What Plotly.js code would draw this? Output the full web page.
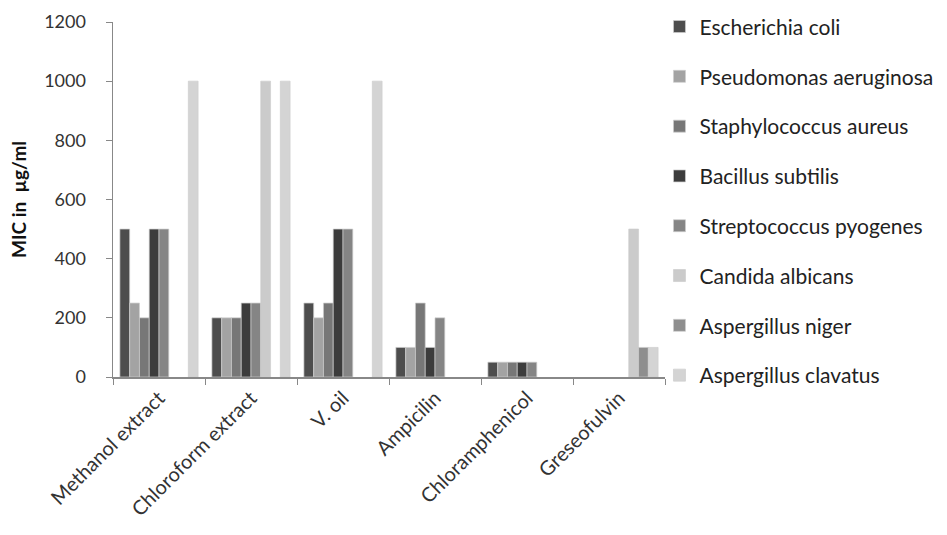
<!DOCTYPE html>
<html><head><meta charset="utf-8">
<script src="https://cdn.plot.ly/plotly-3.0.1.min.js"></script>
<style>body{margin:0;background:#fff}#c{width:947px;height:535px}</style>
</head><body><div id="c"></div>
<script>
const categories = ["Methanol extract","Chloroform extract","V. oil","Ampicilin","Chloramphenicol","Greseofulvin"];
const seriesNames = ["Escherichia coli","Pseudomonas aeruginosa","Staphylococcus aureus","Bacillus subtilis","Streptococcus pyogenes","Candida albicans","Aspergillus niger","Aspergillus clavatus"];
const ecoli      = [500, 200, 250, 100, 50, null];
const pseudo     = [250, 200, 200, 100, 50, null];
const staph      = [200, 200, 250, 250, 50, null];
const bacillus   = [500, 250, 500, 100, 50, null];
const strepto    = [500, 250, 500, 200, 50, null];
const candida    = [null, 1000, null, null, null, 500];
const aniger     = [null, null, null, null, null, 100];
const aclavatus  = [1000, 1000, 1000, null, null, 100];
const seriesValues = [ecoli, pseudo, staph, bacillus, strepto, candida, aniger, aclavatus];
const colors = ["#4d4d4d","#a3a3a3","#777777","#3c3c3c","#858585","#cbcbcb","#8e8e8e","#d4d4d4"];

const traces = seriesNames.map((n,i)=>({
  type:"bar", name:n, x:categories, y:seriesValues[i],
  marker:{color:colors[i], line:{color:"rgba(205,205,205,0.7)", width:1}},
  legendgroup:"g"+i
}));
const font = "Lato, 'Open Sans', sans-serif";
const layout = {
  width:947, height:535,
  margin:{l:113, r:282, t:22, b:158, autoexpand:false},
  paper_bgcolor:"#fff", plot_bgcolor:"#fff",
  font:{family:font, size:15, color:"#333"},
  bargap:0.15, bargroupgap:0,
  showlegend:true,
  legend:{x:0.99, xanchor:"left", y:1.044, yanchor:"top", tracegroupgap:19.5, maxheight:1, font:{size:21, color:"#222"}, bgcolor:"rgba(0,0,0,0)"},
  xaxis:{type:"category", tickangle:-45, showline:true, linecolor:"#888", linewidth:1.5, ticks:"outside", tickson:"boundaries", ticklen:6, tickcolor:"#888", showgrid:false, tickfont:{size:20, color:"#333"}},
  yaxis:{range:[0,1200], dtick:200, showline:true, linecolor:"#888", linewidth:1.5, ticks:"outside", ticklen:6, tickcolor:"#888", showgrid:false, zeroline:false, ticklabelstandoff:16, tickfont:{size:18, color:"#333"},
    title:{text:"<b>MIC in  µg/ml</b>", font:{size:19, color:"#111"}, standoff:12}}
};
Plotly.newPlot("c", traces, layout, {displayModeBar:false, staticPlot:true});
</script></body></html>
